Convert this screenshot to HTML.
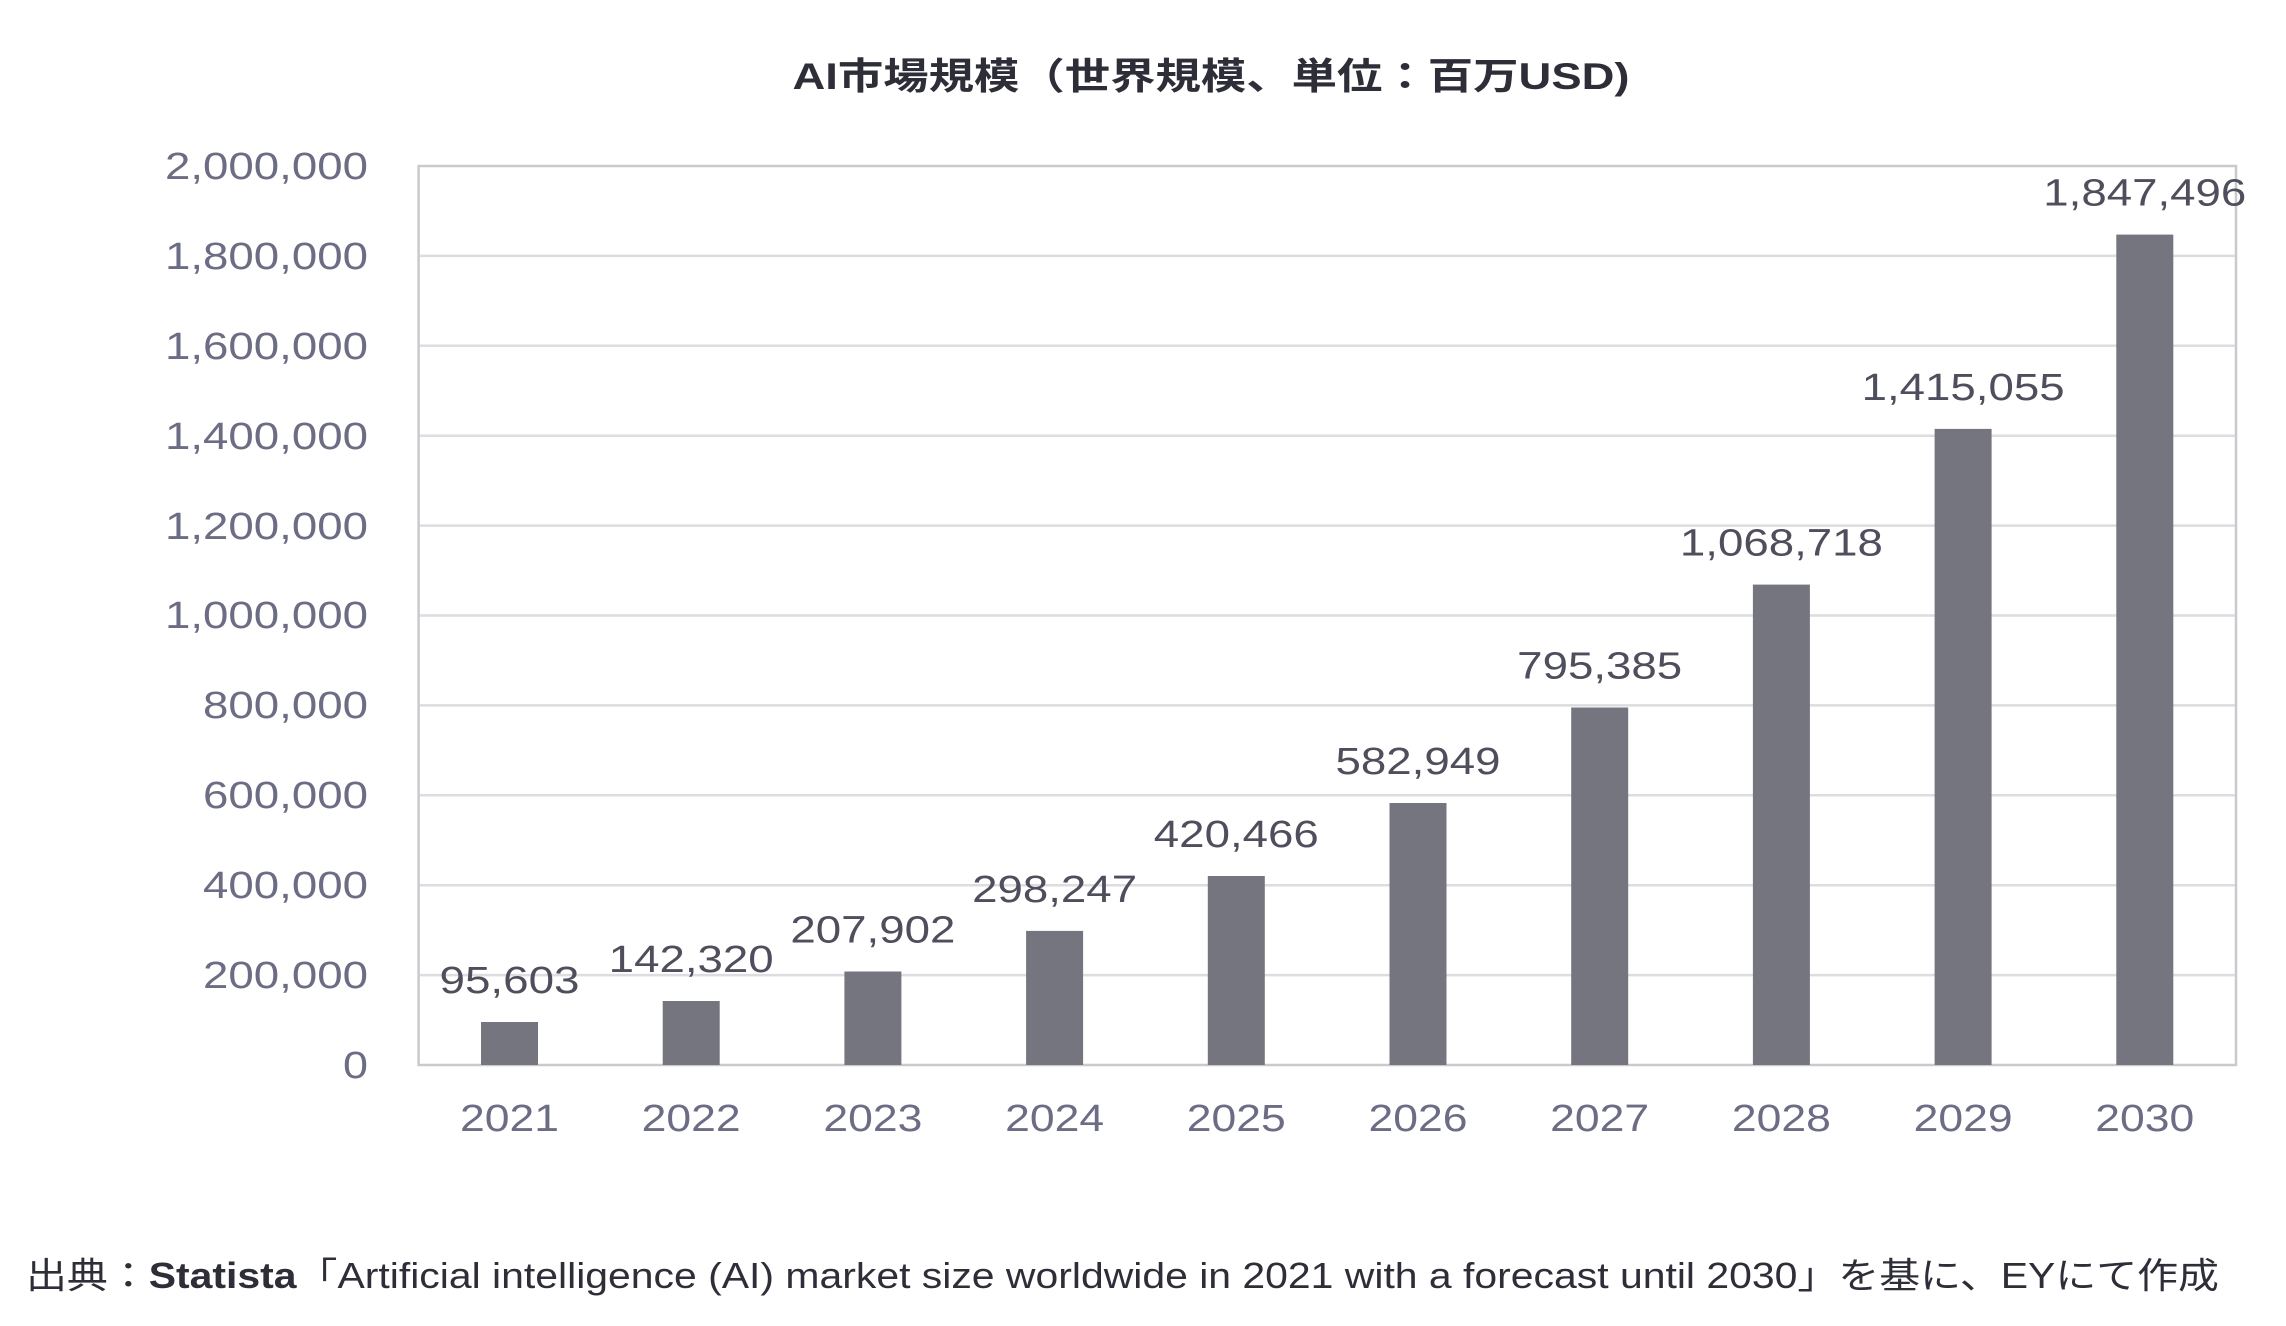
<!DOCTYPE html>
<html><head><meta charset="utf-8"><style>
html,body{margin:0;padding:0;background:#fff;}
svg{display:block;}
text{font-family:"Liberation Sans","Noto Sans CJK JP",sans-serif;}
</style></head><body>
<svg width="2286" height="1326" viewBox="0 0 2286 1326" xmlns="http://www.w3.org/2000/svg">
<text x="1211" y="89" text-anchor="middle" font-size="37" font-weight="bold" fill="#2e2e38" textLength="837" lengthAdjust="spacingAndGlyphs">AI市場規模（世界規模、単位：百万USD)</text>
<g stroke="#dcdce1" stroke-width="2.5">
<line x1="418.6" x2="2236" y1="255.9" y2="255.9"/>
<line x1="418.6" x2="2236" y1="345.8" y2="345.8"/>
<line x1="418.6" x2="2236" y1="435.7" y2="435.7"/>
<line x1="418.6" x2="2236" y1="525.6" y2="525.6"/>
<line x1="418.6" x2="2236" y1="615.5" y2="615.5"/>
<line x1="418.6" x2="2236" y1="705.4" y2="705.4"/>
<line x1="418.6" x2="2236" y1="795.3" y2="795.3"/>
<line x1="418.6" x2="2236" y1="885.2" y2="885.2"/>
<line x1="418.6" x2="2236" y1="975.1" y2="975.1"/>
</g>
<rect x="418.6" y="166" width="1817.4" height="899" fill="none" stroke="#cacace" stroke-width="2.5"/>
<g font-size="38" fill="#6c6c84" text-anchor="end">
<text x="368" y="179" textLength="203" lengthAdjust="spacingAndGlyphs">2,000,000</text>
<text x="368" y="269" textLength="203" lengthAdjust="spacingAndGlyphs">1,800,000</text>
<text x="368" y="359" textLength="203" lengthAdjust="spacingAndGlyphs">1,600,000</text>
<text x="368" y="449" textLength="203" lengthAdjust="spacingAndGlyphs">1,400,000</text>
<text x="368" y="539" textLength="203" lengthAdjust="spacingAndGlyphs">1,200,000</text>
<text x="368" y="628" textLength="203" lengthAdjust="spacingAndGlyphs">1,000,000</text>
<text x="368" y="718" textLength="165" lengthAdjust="spacingAndGlyphs">800,000</text>
<text x="368" y="808" textLength="165" lengthAdjust="spacingAndGlyphs">600,000</text>
<text x="368" y="898" textLength="165" lengthAdjust="spacingAndGlyphs">400,000</text>
<text x="368" y="988" textLength="165" lengthAdjust="spacingAndGlyphs">200,000</text>
<text x="368" y="1078" textLength="25" lengthAdjust="spacingAndGlyphs">0</text>
</g>
<g fill="#75757f">
<rect x="481" y="1022" width="57" height="43"/>
<rect x="662.7" y="1001" width="57" height="64"/>
<rect x="844.4" y="971.5" width="57" height="93.5"/>
<rect x="1026.1" y="930.9" width="57" height="134.1"/>
<rect x="1207.8" y="876" width="57" height="189"/>
<rect x="1389.5" y="803" width="57" height="262"/>
<rect x="1571.2" y="707.5" width="57" height="357.5"/>
<rect x="1752.9" y="584.6" width="57" height="480.4"/>
<rect x="1934.6" y="428.9" width="57" height="636.1"/>
<rect x="2116.3" y="234.6" width="57" height="830.4"/>
</g>
<g font-size="38" fill="#4e4e5c" text-anchor="middle">
<text x="509.5" y="993" textLength="140" lengthAdjust="spacingAndGlyphs">95,603</text>
<text x="691.2" y="972" textLength="165" lengthAdjust="spacingAndGlyphs">142,320</text>
<text x="872.9" y="942.5" textLength="165" lengthAdjust="spacingAndGlyphs">207,902</text>
<text x="1054.6" y="902" textLength="165" lengthAdjust="spacingAndGlyphs">298,247</text>
<text x="1236.3" y="847" textLength="165" lengthAdjust="spacingAndGlyphs">420,466</text>
<text x="1418" y="774" textLength="165" lengthAdjust="spacingAndGlyphs">582,949</text>
<text x="1599.7" y="678.5" textLength="165" lengthAdjust="spacingAndGlyphs">795,385</text>
<text x="1781.4" y="555.6" textLength="203" lengthAdjust="spacingAndGlyphs">1,068,718</text>
<text x="1963.1" y="400" textLength="203" lengthAdjust="spacingAndGlyphs">1,415,055</text>
<text x="2144.8" y="205.6" textLength="203" lengthAdjust="spacingAndGlyphs">1,847,496</text>
</g>
<g font-size="38" fill="#6c6c84" text-anchor="middle">
<text x="509.5" y="1131" textLength="99" lengthAdjust="spacingAndGlyphs">2021</text>
<text x="691.2" y="1131" textLength="99" lengthAdjust="spacingAndGlyphs">2022</text>
<text x="872.9" y="1131" textLength="99" lengthAdjust="spacingAndGlyphs">2023</text>
<text x="1054.6" y="1131" textLength="99" lengthAdjust="spacingAndGlyphs">2024</text>
<text x="1236.3" y="1131" textLength="99" lengthAdjust="spacingAndGlyphs">2025</text>
<text x="1418" y="1131" textLength="99" lengthAdjust="spacingAndGlyphs">2026</text>
<text x="1599.7" y="1131" textLength="99" lengthAdjust="spacingAndGlyphs">2027</text>
<text x="1781.4" y="1131" textLength="99" lengthAdjust="spacingAndGlyphs">2028</text>
<text x="1963.1" y="1131" textLength="99" lengthAdjust="spacingAndGlyphs">2029</text>
<text x="2144.8" y="1131" textLength="99" lengthAdjust="spacingAndGlyphs">2030</text>
</g>
<text x="26" y="1288" font-size="36" fill="#2e2e38" textLength="2193" lengthAdjust="spacingAndGlyphs">出典：<tspan font-weight="bold">Statista</tspan>「Artificial intelligence (AI) market size worldwide in 2021 with a forecast until 2030」を基に、EYにて作成</text>
</svg>
</body></html>
